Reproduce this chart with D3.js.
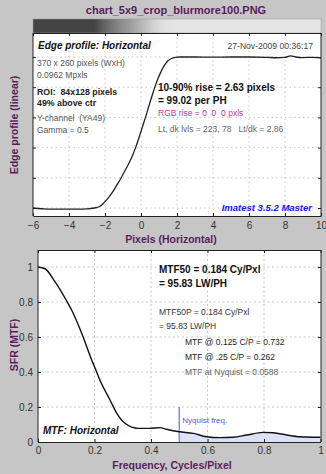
<!DOCTYPE html>
<html>
<head>
<meta charset="utf-8">
<script src="https://cdn.jsdelivr.net/npm/d3@7/dist/d3.min.js"></script>
<style>
  html, body { margin: 0; padding: 0; background: #c6c6c6; }
  svg { display: block; font-family: "Liberation Sans", Arial, sans-serif; }
  svg text { white-space: pre; }
</style>
</head>
<body>
<svg id="chart" width="326" height="474"></svg>
<script>
// ---- Edge profile (normalized: dark level = 0, light level = 1) ----
const edgeX = [-6, -5.5, -5, -4.5, -4, -3.5, -3, -2.6, -2.3, -2.1, -1.9, -1.7, -1.5, -1.3, -1.1, -0.9, -0.7, -0.5, -0.3, -0.1,
               0.1, 0.3, 0.5, 0.7, 0.9, 1.1, 1.3, 1.5, 1.7, 1.9, 2.2, 3, 4, 5, 6, 7, 7.5, 8, 8.3, 8.6, 9, 9.5, 10];
const edgeY = [0.0, -0.005, -0.008, -0.008, -0.008, -0.008, -0.006, 0.0, 0.01, 0.03, 0.055, 0.085, 0.12, 0.16, 0.2, 0.245, 0.29, 0.34, 0.4, 0.47,
               0.545, 0.62, 0.7, 0.775, 0.845, 0.9, 0.945, 0.975, 0.99, 0.997, 1.0, 1.0, 0.999, 1.0, 1.0, 0.998, 0.995, 0.997, 1.008, 1.0, 0.996, 0.998, 0.995];
const edgeXTicks = [-6, -4, -2, 0, 2, 4, 6, 8, 10];
const edgeYTicks = [0, 0.2, 0.4, 0.6, 0.8, 1.0];

// ---- Spatial frequency response ----
const freq = [0, 0.025, 0.06, 0.1, 0.119, 0.155, 0.19, 0.2, 0.219, 0.255, 0.279, 0.308, 0.355, 0.396, 0.432, 0.455, 0.5,
              0.55, 0.597, 0.644, 0.69, 0.739, 0.797, 0.833, 0.88, 0.927, 1.0];
const mtf  = [1.0, 0.99, 0.916, 0.81, 0.754, 0.62, 0.469, 0.43, 0.354, 0.24, 0.164, 0.107, 0.078, 0.078, 0.082, 0.073, 0.0588,
              0.049, 0.03, 0.025, 0.027, 0.04, 0.055, 0.053, 0.04, 0.03, 0.027];
const freqTicks = [0, 0.2, 0.4, 0.6, 0.8, 1];
const mtfTicks = [0, 0.2, 0.4, 0.6, 0.8, 1];
const nyquist = 0.5;

const edgeInfo = ["370 x 260 pixels (WxH)", "0.0962 Mpxls"];
const roiInfo = ["ROI:  84x128 pixels", "49% above ctr"];
const chanInfo = ["Y-channel  (YA49)", "Gamma = 0.5"];

const purple = "#5a1d5c";
const svg = d3.select("#chart");

// Title
svg.append("text").attr("x", 176).attr("y", 14).attr("text-anchor", "middle")
  .attr("font-size", 11).attr("font-weight", "bold").attr("fill", purple)
  .text("chart_5x9_crop_blurmore100.PNG");

// ================= Edge profile panel =================
const e = { l: 33, r: 321, t: 33, b: 216 };
const ex = d3.scaleLinear().domain([-6, 10]).range([e.l, e.r]);
const ey = d3.scaleLinear().domain([0, 1]).range([208, 57]);

// Edge image strip drawn from the profile
const grad = svg.append("defs").append("linearGradient").attr("id", "edgeStrip")
  .attr("x1", 0).attr("x2", 1).attr("y1", 0).attr("y2", 0);
const shade = d3.interpolateRgb("#444444", "#e4e4e4");
edgeX.forEach((x, i) => {
  const v = Math.max(0, Math.min(1, edgeY[i]));
  grad.append("stop").attr("offset", (x + 6) / 16).attr("stop-color", shade(Math.pow(v, 0.5)));
});
svg.append("rect").attr("x", e.l).attr("y", 19).attr("width", e.r - e.l).attr("height", e.t - 19)
  .attr("fill", "url(#edgeStrip)").attr("stroke", "#999").attr("stroke-width", 0.5);

svg.append("rect").attr("x", e.l).attr("y", e.t).attr("width", e.r - e.l).attr("height", e.b - e.t)
  .attr("fill", "#fff");

const eg = svg.append("g");
eg.selectAll(".vg").data(edgeXTicks.slice(1, -1)).join("line")
  .attr("x1", d => ex(d)).attr("x2", d => ex(d)).attr("y1", e.t).attr("y2", e.b)
  .attr("stroke", "#c8c8c8").attr("stroke-dasharray", "1.5,3");
eg.selectAll(".hg").data(edgeYTicks).join("line")
  .attr("x1", e.l).attr("x2", e.r).attr("y1", d => ey(d)).attr("y2", d => ey(d))
  .attr("stroke", "#c8c8c8").attr("stroke-dasharray", "1.5,3");

// Ticks
svg.append("g").attr("transform", `translate(0,${e.b})`)
  .call(d3.axisBottom(ex).tickValues(edgeXTicks).tickSizeInner(-3).tickSizeOuter(0).tickPadding(6))
  .call(g => g.select(".domain").attr("stroke", "#222"))
  .call(g => g.selectAll(".tick line").attr("stroke", "#222"))
  .call(g => g.selectAll("text").attr("font-size", 10).attr("fill", "#333").attr("font-family", "Liberation Sans, Arial"));
svg.append("g").attr("transform", `translate(0,${e.t})`)
  .call(d3.axisTop(ex).tickValues(edgeXTicks).tickSizeInner(-3).tickSizeOuter(0).tickFormat(""))
  .call(g => g.select(".domain").attr("stroke", "#222"))
  .call(g => g.selectAll(".tick line").attr("stroke", "#222"));
svg.append("g").attr("transform", `translate(${e.l},0)`)
  .call(d3.axisLeft(ey).tickValues(edgeYTicks).tickSizeInner(-3).tickSizeOuter(0).tickFormat(""))
  .call(g => g.select(".domain").attr("d", `M0,${e.t}V${e.b}`).attr("stroke", "#222"))
  .call(g => g.selectAll(".tick line").attr("stroke", "#222"));
svg.append("g").attr("transform", `translate(${e.r},0)`)
  .call(d3.axisRight(ey).tickValues(edgeYTicks).tickSizeInner(-3).tickSizeOuter(0).tickFormat(""))
  .call(g => g.select(".domain").attr("d", `M0,${e.t}V${e.b}`).attr("stroke", "#222"))
  .call(g => g.selectAll(".tick line").attr("stroke", "#222"));

// Edge curve
const edgeLine = d3.line().x(d => ex(d[0])).y(d => ey(d[1])).curve(d3.curveMonotoneX);
svg.append("path").datum(edgeX.map((x, i) => [x, edgeY[i]]))
  .attr("d", edgeLine).attr("fill", "none").attr("stroke", "#222").attr("stroke-width", 1.3);

// Edge panel annotations
const t1 = svg.append("g");
t1.append("text").attr("x", 38).attr("y", 49).attr("font-size", 10).attr("font-weight", "bold")
  .attr("font-style", "italic").attr("fill", "#111").text("Edge profile: Horizontal");
t1.append("text").attr("x", 313).attr("y", 49).attr("text-anchor", "end").attr("font-size", 8.6)
  .attr("fill", "#444").text("27-Nov-2009 00:36:17");
t1.selectAll(".a").data(edgeInfo).join("text").attr("x", 37).attr("y", (d, i) => 66 + i * 11.5)
  .attr("font-size", 8.5).attr("fill", "#555").text(d => d);
t1.selectAll(".b").data(roiInfo).join("text").attr("x", 37).attr("y", (d, i) => 95 + i * 11)
  .attr("font-size", 8.8).attr("font-weight", "bold").attr("fill", "#222").text(d => d);
t1.selectAll(".c").data(chanInfo).join("text").attr("x", 37).attr("y", (d, i) => 121 + i * 11.5)
  .attr("font-size", 8.5).attr("fill", "#555").text(d => d);
t1.append("text").attr("x", 158).attr("y", 91).attr("font-size", 10).attr("font-weight", "bold")
  .attr("fill", "#111").text("10-90% rise = 2.63 pixels");
t1.append("text").attr("x", 158).attr("y", 104).attr("font-size", 10).attr("font-weight", "bold")
  .attr("fill", "#111").text("= 99.02 per PH");
t1.append("text").attr("x", 158).attr("y", 115.5).attr("font-size", 8.5)
  .attr("fill", "#c0399a").text("RGB rise = 0  0  0 pxls");
t1.append("text").attr("x", 158).attr("y", 132).attr("font-size", 8.5)
  .attr("fill", "#666").text("Lt, dk lvls = 223, 78   Lt/dk = 2.86");
t1.append("text").attr("x", 312).attr("y", 210.5).attr("text-anchor", "end").attr("font-size", 9.5)
  .attr("font-weight", "bold").attr("font-style", "italic").attr("fill", "#1a1ae0").text("Imatest 3.5.2 Master");

// Axis titles
svg.append("text").attr("x", 171).attr("y", 243).attr("text-anchor", "middle").attr("font-size", 10.5)
  .attr("font-weight", "bold").attr("fill", purple).text("Pixels (Horizontal)");
svg.append("text").attr("transform", "translate(18,125) rotate(-90)").attr("text-anchor", "middle")
  .attr("font-size", 10.5).attr("font-weight", "bold").attr("fill", purple).text("Edge profile (linear)");

// ================= MTF panel =================
const m = { l: 38, r: 321, t: 250, b: 442 };
const mx = d3.scaleLinear().domain([0, 1]).range([38, 320.5]);
const my = d3.scaleLinear().domain([0, 1.1]).range([442, 249.5]);

svg.append("rect").attr("x", m.l).attr("y", m.t).attr("width", m.r - m.l).attr("height", m.b - m.t)
  .attr("fill", "#fff");
const mg = svg.append("g");
mg.selectAll(".vg").data(freqTicks.slice(1, -1)).join("line")
  .attr("x1", d => mx(d)).attr("x2", d => mx(d)).attr("y1", m.t).attr("y2", m.b)
  .attr("stroke", "#c8c8c8").attr("stroke-dasharray", "2,2.5");
mg.selectAll(".hg").data(mtfTicks.slice(1)).join("line")
  .attr("x1", m.l).attr("x2", m.r).attr("y1", d => my(d)).attr("y2", d => my(d))
  .attr("stroke", "#c8c8c8").attr("stroke-dasharray", "2,2.5");

// Shaded region above Nyquist
const pts = freq.map((f, i) => [f, mtf[i]]);
const above = pts.filter(p => p[0] >= nyquist);
svg.append("path").datum(above)
  .attr("d", d3.area().x(d => mx(d[0])).y0(my(0)).y1(d => my(d[1])).curve(d3.curveMonotoneX))
  .attr("fill", "#dfe1f6");
svg.append("line").attr("x1", mx(nyquist)).attr("x2", mx(nyquist)).attr("y1", my(0)).attr("y2", my(0.2))
  .attr("stroke", "#8a8ae6").attr("stroke-width", 1.5);
svg.append("text").attr("x", mx(nyquist) + 3).attr("y", 423).attr("font-size", 8)
  .attr("fill", "#5a5ad0").text("Nyquist freq.");

svg.append("path").datum(pts)
  .attr("d", d3.line().x(d => mx(d[0])).y(d => my(d[1])).curve(d3.curveMonotoneX))
  .attr("fill", "none").attr("stroke", "#111").attr("stroke-width", 1.4);

svg.append("g").attr("transform", `translate(0,${m.b})`)
  .call(d3.axisBottom(mx).tickValues(freqTicks).tickSizeInner(-3).tickSizeOuter(0).tickPadding(5)
        .tickFormat(d => d === 0 || d === 1 ? String(d) : d3.format(".1f")(d)))
  .call(g => g.select(".domain").attr("stroke", "#222"))
  .call(g => g.selectAll(".tick line").attr("stroke", "#222"))
  .call(g => g.selectAll("text").attr("font-size", 10).attr("fill", "#333").attr("font-family", "Liberation Sans, Arial"));
svg.append("g").attr("transform", `translate(0,${m.t})`)
  .call(d3.axisTop(mx).tickValues(freqTicks).tickSizeInner(-3).tickSizeOuter(0).tickFormat(""))
  .call(g => g.select(".domain").attr("stroke", "#222"))
  .call(g => g.selectAll(".tick line").attr("stroke", "#222"));
svg.append("g").attr("transform", `translate(${m.l},0)`)
  .call(d3.axisLeft(my).tickValues(mtfTicks).tickSizeInner(-3).tickSizeOuter(0).tickPadding(5)
        .tickFormat(d => d === 0 || d === 1 ? String(d) : d3.format(".1f")(d)))
  .call(g => g.select(".domain").attr("d", `M0,${m.t}V${m.b}`).attr("stroke", "#222"))
  .call(g => g.selectAll(".tick line").attr("stroke", "#222"))
  .call(g => g.selectAll("text").attr("font-size", 10).attr("fill", "#333").attr("font-family", "Liberation Sans, Arial"));
svg.append("g").attr("transform", `translate(${m.r},0)`)
  .call(d3.axisRight(my).tickValues(mtfTicks).tickSizeInner(-3).tickSizeOuter(0).tickFormat(""))
  .call(g => g.select(".domain").attr("d", `M0,${m.t}V${m.b}`).attr("stroke", "#222"))
  .call(g => g.selectAll(".tick line").attr("stroke", "#222"));

// MTF annotations
const t2 = svg.append("g");
t2.append("text").attr("x", 159).attr("y", 273).attr("font-size", 10).attr("font-weight", "bold")
  .attr("fill", "#111").text("MTF50 = 0.184 Cy/Pxl");
t2.append("text").attr("x", 159).attr("y", 287).attr("font-size", 10).attr("font-weight", "bold")
  .attr("fill", "#111").text("= 95.83 LW/PH");
t2.append("text").attr("x", 159).attr("y", 315).attr("font-size", 8.5).attr("fill", "#333")
  .text("MTF50P = 0.184 Cy/Pxl");
t2.append("text").attr("x", 159).attr("y", 328.5).attr("font-size", 8.5).attr("fill", "#333")
  .text("= 95.83 LW/PH");
t2.append("text").attr("x", 185).attr("y", 344.5).attr("font-size", 8.5).attr("fill", "#222")
  .text("MTF @ 0.125 C/P = 0.732");
t2.append("text").attr("x", 185).attr("y", 360).attr("font-size", 8.5).attr("fill", "#222")
  .text("MTF @ .25 C/P = 0.262");
t2.append("text").attr("x", 185).attr("y", 375).attr("font-size", 8.5).attr("fill", "#666")
  .text("MTF at Nyquist = 0.0588");
t2.append("text").attr("x", 43).attr("y", 434).attr("font-size", 10).attr("font-weight", "bold")
  .attr("font-style", "italic").attr("fill", "#111").text("MTF: Horizontal");

svg.append("text").attr("x", 172).attr("y", 469).attr("text-anchor", "middle").attr("font-size", 10.5)
  .attr("font-weight", "bold").attr("fill", purple).text("Frequency, Cycles/Pixel");
svg.append("text").attr("transform", "translate(18,345) rotate(-90)").attr("text-anchor", "middle")
  .attr("font-size", 10.5).attr("font-weight", "bold").attr("fill", purple).text("SFR (MTF)");
</script>
</body>
</html>
